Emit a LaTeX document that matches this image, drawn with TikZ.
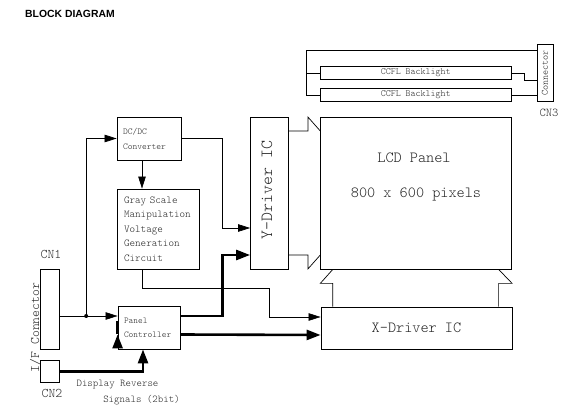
\documentclass[tikz,border=0pt]{standalone}
\usepackage{fontspec}
\setmainfont{Liberation Serif}
\newfontfamily\monofont{Latin Modern Mono Light}
\newfontfamily\titlefont{Liberation Sans}
\usetikzlibrary{arrows.meta,calc}
\newcommand{\mfs}[2]{\monofont\fontsize{#1}{#2}\selectfont}

\begin{document}
\begin{tikzpicture}[x=1pt,y=-1pt,>={Triangle[length=12pt,width=7.5pt]},
  box/.style={draw,line width=0.8pt,inner sep=0pt,text=black!85},
  lbl/.style={inner sep=0pt,text=black!85},
  sig/.style={->,line width=0.7pt},
  bus/.style={-{Triangle[length=14pt,width=10pt]},line width=2.6pt},
  wire/.style={line width=0.7pt}]
  \useasboundingbox (0,0) rectangle (578,419);
  \node[anchor=west,inner sep=0pt,font=\titlefont\bfseries\fontsize{10.4}{12}\selectfont] (title) at (25,14) {BLOCK DIAGRAM};
  % backlights and CN3
  \node[box,minimum width=191pt,minimum height=12.6pt,font=\mfs{9.5}{10}] (ccfla) at (415.7,73) {CCFL Backlight};
  \node[box,minimum width=191pt,minimum height=13.4pt,font=\mfs{9.5}{10}] (ccflb) at (415.7,95) {CCFL Backlight};
  \node[box,minimum width=16pt,minimum height=57pt] (cnthree) at (545,73) {};
  \node[lbl,rotate=90,font=\mfs{9.7}{10}] (cnthreetxt) at (cnthree.center) {Connector};
  \node[lbl,font=\mfs{12}{13}] (cnthreelbl) at (549,113) {CN3};
  \draw[wire] ($(cnthree.north west)+(0,6.5)$) -| ($(ccflb.west)+(-13,0)$) -- (ccflb.west);
  \draw[wire] ($(ccfla.west)+(-13,0)$) -- (ccfla.west);
  \draw[wire] (ccfla.east) -- ++(12.5,0) |- ($(cnthree.west)+(0,7)$);
  \draw[wire] (ccflb.east) -- (ccflb.east -| cnthree.west);
  % panel and drivers
  \node[box,minimum width=191pt,minimum height=152pt] (lcd) at (416.2,193) {};
  \node[lbl,font=\mfs{15.5}{16}] (lcdname) at (414,158) {LCD Panel};
  \node[lbl,font=\mfs{15.5}{16}] (lcdres) at (416,194) {800 x 600 pixels};
  \node[box,minimum width=38pt,minimum height=152pt] (ydrv) at (269.5,193) {};
  \node[lbl,rotate=90,font=\mfs{17}{18}] (ydrvtxt) at (267,190) {Y-Driver IC};
  \node[box,minimum width=191pt,minimum height=42pt,font=\mfs{15.5}{16}] (xdrv) at (416.5,328) {X-Driver IC};
  \draw[wire] ($(ydrv.east)+(0,-62)$) -- ++(19,0) -- ++(0,-14) -- ($(lcd.west)+(0,-62)$);
  \draw[wire] ($(ydrv.east)+(0,62)$) -- ++(19,0) -- ++(0,14) -- ($(lcd.west)+(0,62)$);
  \draw[wire] ($(lcd.south west)+(12.5,0)$) coordinate (xl) -- ++(-12.5,14) -- ++(12.5,0) -- (xl |- xdrv.north);
  \draw[wire] ($(lcd.south east)+(-13.5,0)$) coordinate (xr) -- ++(13.5,14) -- ++(-13.5,0) -- (xr |- xdrv.north);
  % power and gray scale
  \node[box,minimum width=64pt,minimum height=43pt,text width=52pt,inner xsep=6pt,align=left,font=\mfs{9.1}{15}] (dcdc) at (149,138.5) {DC/DC\\Converter};
  \node[box,minimum width=82pt,minimum height=80pt,text width=68pt,inner xsep=7pt,align=left,font=\mfs{10.6}{14.5}] (gray) at (158,229) {Gray Scale\\Manipulation\\Voltage\\Generation\\Circuit};
  \node[box,minimum width=62pt,minimum height=43pt,text width=50pt,inner xsep=6pt,align=left,font=\mfs{9}{14}] (ctrl) at (149,327.5) {Panel\\Controller};
  \draw[sig] (dcdc.east) -- ++(41,0) |- ($(ydrv.west)+(0,35)$);
  \draw[sig] ([xshift=-7pt]dcdc.south) -- ([xshift=-7pt]dcdc.south |- gray.north);
  \draw[sig] ([xshift=-16pt]gray.south) -- ++(0,19) -- ++(127,0) |- ($(xdrv.west)+(0,-11)$);
  % interface connectors
  \node[box,minimum width=19pt,minimum height=80pt] (cnone) at (50.3,309) {};
  \node[box,minimum width=19pt,minimum height=22.7pt] (cntwo) at (50.3,371.3) {};
  \node[lbl,font=\mfs{13.2}{14}] (cnonelbl) at (51,254) {CN1};
  \node[lbl,font=\mfs{13.2}{14}] (cntwolbl) at (52,393) {CN2};
  \node[lbl,rotate=90,font=\mfs{13.1}{14}] (iftxt) at (35,327.5) {I/F Connector};
  \coordinate (cin) at ($(ctrl.west)+(0,-11.5)$);
  \draw[sig] (cin -| cnone.east) -- (cin);
  \coordinate (tap) at ($(cin -| cnone.east)+(26,0)$);
  \fill (tap) circle (2);
  \draw[sig] (tap) |- (dcdc.west);
  \draw[bus] ($(ctrl.west)+(0,7)$ -| cnone.east) -- ($(ctrl.west)+(0,7)$);
  \draw[bus] (cntwo.east) -| ([xshift=-6pt]ctrl.south);
  \draw[bus] ($(ctrl.east)+(0,-11.5)$) -- ++(42,0) |- ($(ydrv.west)+(0,62)$);
  \draw[bus] ($(ctrl.east)+(0,7)$) -- ($(xdrv.west)+(0,7)$);
  \node[lbl,font=\mfs{10.4}{11}] (revone) at (117.5,385) {Display Reverse};
  \node[lbl,font=\mfs{10.4}{11}] (revtwo) at (141.5,400) {Signals (2bit)};
\end{tikzpicture}
\end{document}
